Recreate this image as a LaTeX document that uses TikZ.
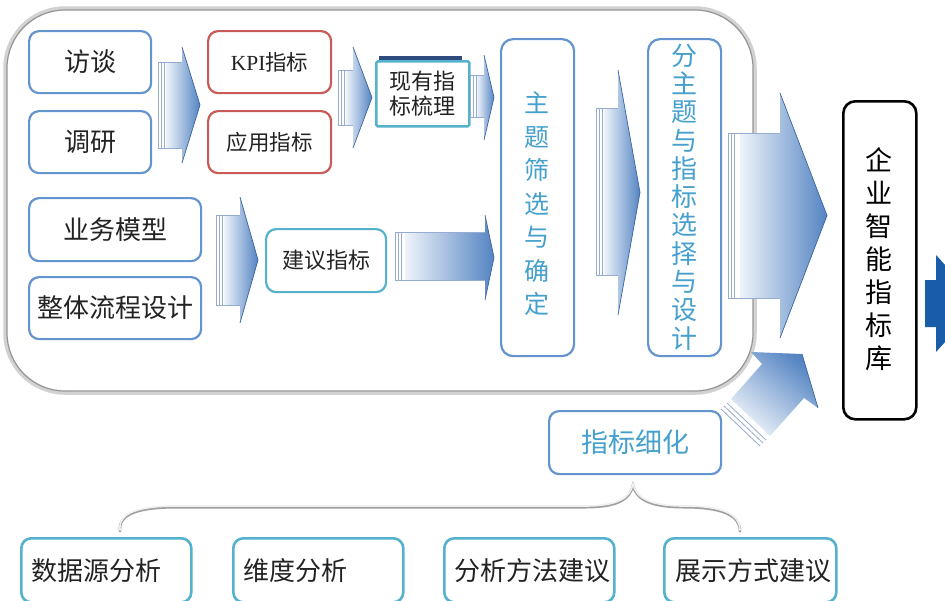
\documentclass[tikz,border=0pt]{standalone}
\usepackage{fontspec}
\setmainfont{Liberation Serif}
\newfontfamily\cjk{Noto Sans CJK SC}
\definecolor{bxblue}{RGB}{100,148,205}
\definecolor{bxred}{RGB}{200,90,88}
\definecolor{bxteal}{RGB}{85,178,205}
\definecolor{txblue}{RGB}{70,160,205}
\definecolor{txdark}{RGB}{35,35,35}
\definecolor{arL}{RGB}{238,243,250}
\definecolor{arR}{RGB}{84,132,194}
\definecolor{arE}{RGB}{60,100,160}
\definecolor{arT}{RGB}{150,172,208}
\definecolor{dkblue}{RGB}{25,92,168}
\definecolor{frameC}{RGB}{185,185,185}
\definecolor{shadowC}{RGB}{45,75,125}
\tikzset{
  box/.style={draw=bxblue, line width=2.2, rounded corners=10, fill=white, anchor=north west,
    inner sep=0, font=\cjk\fontsize{26}{30}\selectfont, text=txdark},
  redbox/.style={box, draw=bxred, font=\cjk\fontsize{21.5}{26}\selectfont},
  tealbox/.style={box, draw=bxteal, font=\cjk\fontsize{22}{25}\selectfont},
  btmbox/.style={box, draw=bxteal, line width=2.6, text width=150, align=left, inner xsep=10},
  colbox/.style={box, rounded corners=12},
  coltext/.style={align=center, inner sep=0, text=txblue},
  tailline/.style={draw=arT, line width=0.8},
  headedge/.style={draw=arE, line width=0.7},
}
% #1 tail x, #2 body start x, #3 head base x, #4 tip x, #5 body top, #6 body bottom, #7 head top, #8 head bottom
\newcommand{\blockarr}[8]{%
  \pgfmathsetmacro\ymid{(#7+#8)/2}%
  \shade[left color=arL, right color=arR] (#2,#5) -- (#3,#5) -- (#3,#7) -- (#4,\ymid) -- (#3,#8) -- (#3,#6) -- (#2,#6) -- cycle;
  \draw[headedge] (#3,#7) -- (#4,\ymid) -- (#3,#8);
  \draw[tailline] (#1,#5) -- (#3,#5) (#1,#6) -- (#3,#6)
    (#1,#5) -- (#1,#6) ({#1+3},#5) -- ({#1+3},#6) ({#1+6},#5) -- ({#1+6},#6);
}
\begin{document}
\begin{tikzpicture}[x=1pt,y=-1pt]
\useasboundingbox (0,0) rectangle (945,600);
\clip (0,0) rectangle (945,600);
\fill[white] (0,0) rectangle (945,600);

% container
\draw[gray!35, line width=3.5, rounded corners=60] (5,8) rectangle (755,393);
\draw[frameC!80!black, line width=1.2, rounded corners=58] (7,10) rectangle (753,391);

% left column
\node[box, minimum width=122, minimum height=62] (ft) at (28,30) {访谈};
\node[box, minimum width=122, minimum height=62] (dy) at (28,110) {调研};
\node[box, minimum width=172, minimum height=63] (yw) at (28,197) {业务模型};
\node[box, minimum width=172, minimum height=62] (zt) at (28,276) {整体流程设计};

% second column
\node[redbox, minimum width=123, minimum height=62] (kpi) at (207,30) {{\rmfamily KPI}指标};
\node[redbox, minimum width=123, minimum height=62] (yy) at (207,110) {应用指标};
\node[tealbox, minimum width=120, minimum height=63] (jy) at (265,228) {建议指标};

% existing indicators box with dark back
\fill[shadowC] (379,56) rectangle (462,100);
\node[tealbox, rounded corners=1.5, line width=2.6, minimum width=93, minimum height=65, align=center] (xy) at (375,60) {现有指\\标梳理};

% vertical columns
\node[colbox, minimum width=73, minimum height=317] (zhu) at (500,38) {};
\node[coltext, font=\cjk\fontsize{25}{33.5}\selectfont] (zhut) at (537,204) {主\\题\\筛\\选\\与\\确\\定};
\node[colbox, minimum width=73, minimum height=317] (fen) at (647,38) {};
\node[coltext, font=\cjk\fontsize{26}{28.3}\selectfont] (fent) at (684,197) {分\\主\\题\\与\\指\\标\\选\\择\\与\\设\\计};
\node[colbox, draw=black, line width=2.6, minimum width=73, minimum height=318] (qy) at (842,100) {};
\node[coltext, text=black, font=\cjk\fontsize{27}{33}\selectfont] (qyt) at (879,259) {企\\业\\智\\能\\指\\标\\库};

% refinement box
\node[box, minimum width=172, minimum height=63, text=txblue, font=\cjk\fontsize{27}{30}\selectfont] (xh) at (548,410) {指标细化};

% bottom boxes
\node[btmbox, minimum width=170, minimum height=64] (b1) at (20,537) {数据源分析};
\node[btmbox, minimum width=170, minimum height=64] (b2) at (232,537) {维度分析};
\node[btmbox, minimum width=170, minimum height=64] (b3) at (443,537) {分析方法建议};
\node[btmbox, minimum width=172, minimum height=64] (b4) at (663,537) {展示方式建议};

% block arrows
\blockarr{158}{166}{182}{200}{62}{148}{47}{163}
\blockarr{338}{346}{353}{372}{70}{125}{47}{148}
\blockarr{470}{477}{484}{494}{75}{117}{55}{140}
\blockarr{216}{224}{240}{258}{215}{305}{197}{323}
\blockarr{395}{405}{485}{494}{232}{280}{215}{300}
\blockarr{596}{604}{618}{640}{108}{275}{70}{315}
\blockarr{728}{740}{780}{827}{133}{298}{93}{338}

% diagonal arrow from refinement to library
\shade[top color=arR, bottom color=arL, shading angle=-40] (731,399) -- (762,364) -- (751,352) -- (802,354) -- (818,408) -- (804,398) -- (770,436) -- cycle;
\draw[headedge] (802,354) -- (818,408);
\draw[tailline] (727,403) -- (766,440) (724,406) -- (763,443) (721,409) -- (760,446);

% dark arrow at right edge
\fill[dkblue] (925,280) -- (936,280) -- (936,255) -- (980,303.5) -- (936,352) -- (936,327) -- (925,327) -- cycle;

% brace
\begin{scope}[line cap=round]
\draw[gray!75, line width=2.6, yshift=-1.2]
  (120,530) .. controls (118,512) and (140,506) .. (178,506) -- (585,506)
  .. controls (618,506) and (630,498) .. (633,484)
  .. controls (636,498) and (650,506) .. (684,506)
  .. controls (722,506) and (740,514) .. (740,530);
\draw[gray!12, line width=1.6]
  (120,530) .. controls (118,512) and (140,506) .. (178,506) -- (585,506)
  .. controls (618,506) and (630,498) .. (633,484)
  .. controls (636,498) and (650,506) .. (684,506)
  .. controls (722,506) and (740,514) .. (740,530);
\end{scope}
\end{tikzpicture}
\end{document}
